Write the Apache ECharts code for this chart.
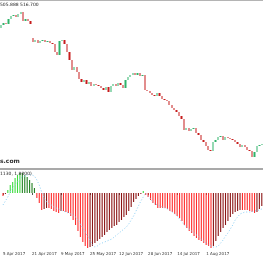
<!DOCTYPE html>
<html><head><meta charset="utf-8">
<script src="https://cdn.jsdelivr.net/npm/echarts@6/dist/echarts.min.js"></script>
<style>html,body{margin:0;padding:0;background:#fff}#c{width:263px;height:260px}</style>
</head><body><div id="c"></div>
<script>
const dates = [
'5 Apr 2017','6 Apr 2017','7 Apr 2017','10 Apr 2017','11 Apr 2017','12 Apr 2017','13 Apr 2017','14 Apr 2017','17 Apr 2017','18 Apr 2017','19 Apr 2017','20 Apr 2017','21 Apr 2017','24 Apr 2017','25 Apr 2017','26 Apr 2017','27 Apr 2017','28 Apr 2017',
'1 May 2017','2 May 2017','3 May 2017','4 May 2017','5 May 2017','8 May 2017','9 May 2017','10 May 2017','11 May 2017','12 May 2017','15 May 2017','16 May 2017','17 May 2017','18 May 2017','19 May 2017','22 May 2017','23 May 2017','24 May 2017','25 May 2017','26 May 2017','29 May 2017','30 May 2017','31 May 2017',
'1 Jun 2017','2 Jun 2017','5 Jun 2017','6 Jun 2017','7 Jun 2017','8 Jun 2017','9 Jun 2017','12 Jun 2017','13 Jun 2017','14 Jun 2017','15 Jun 2017','16 Jun 2017','19 Jun 2017','20 Jun 2017','21 Jun 2017','22 Jun 2017','23 Jun 2017','26 Jun 2017','27 Jun 2017','28 Jun 2017','29 Jun 2017','30 Jun 2017',
'3 Jul 2017','4 Jul 2017','5 Jul 2017','6 Jul 2017','7 Jul 2017','10 Jul 2017','11 Jul 2017','12 Jul 2017','13 Jul 2017','14 Jul 2017','17 Jul 2017','18 Jul 2017','19 Jul 2017','20 Jul 2017','21 Jul 2017','24 Jul 2017','25 Jul 2017','26 Jul 2017','27 Jul 2017','28 Jul 2017','31 Jul 2017',
'1 Aug 2017','2 Aug 2017','3 Aug 2017','4 Aug 2017','7 Aug 2017','8 Aug 2017','9 Aug 2017','10 Aug 2017','11 Aug 2017','14 Aug 2017','15 Aug 2017','16 Aug 2017','17 Aug 2017','18 Aug 2017','21 Aug 2017','22 Aug 2017','23 Aug 2017','24 Aug 2017','25 Aug 2017','28 Aug 2017','29 Aug 2017','30 Aug 2017','31 Aug 2017',
'1 Sep 2017'];

const opens = [506,507.5,508.5,508,510.5,512,512.5,511.5,513,514,509.5,510.5,509.5,501,499,500,498.5,499.5,500,499,499.5,498.5,498,494,492.5,499.5,500,498,494,490,485,486.5,484,480.5,479,480,478,479,477,478,477.5,477,476,475,476.5,474,477,478,477,478.5,477.5,476,480,481.5,482.5,483.5,482.5,483.5,482,482.5,475,474.5,473.5,472.5,472,473.5,472,470.5,470,469.5,467.5,466,465,464,462,460.5,455,456,454.5,455.5,456,453.5,452.5,450,449,447,445,444.5,449,450,451.5,452,450,451.5,451,450.5,450,449,448,446.5,447.5,446.5,445,444.5,441.5,444,447,447.5];
const closes = [507.5,508.5,508,510.5,512,512.5,511.5,513,514,509.5,510.5,509.5,508,499,500,498.5,499.5,500,499,499.5,498.5,498,494,492.5,499.5,500,498,494,490,485,486.5,484,480.5,479,480,478,479,477,478,477.5,477,476,475,476.5,474,477,478,477,478.5,477.5,476,480,481.5,482.5,483.5,482.5,483.5,482,482.5,475,474.5,473.5,472.5,472,473.5,472,470.5,470,469.5,467.5,466,465,464,462,460.5,455,456,454.5,455.5,456,453.5,452.5,450,449,447,445,444.5,449,450,451.5,452,450,451.5,451,450.5,450,449,448,446.5,447.5,446.5,445,444.5,441.5,444,447,447.5,448];
const lows = [505,506.5,507,507.5,509.5,511,510.5,511,512,508.5,508.5,508.5,507,497.5,497,497,497.5,498,497.5,498,497,496.5,493,491,491.5,498.5,497,493,489,484,483.5,483,479.5,478,478,477,477,476,475.5,476,475.5,474.5,474,474,473,473,476,476,476,476.5,471,475,479,480.5,481.5,481.5,481.5,481,480.5,474,473,472.5,471,470.5,471,471,469.5,468.5,468,466.5,465,464,462.5,461,459.5,454,453.5,453.5,453.5,454.5,452.5,451.5,449,448,446,444,443,443.5,448,449,450.5,449,449,450,449.5,449,448,447,445.5,445.5,445.5,444,443.5,438.5,440.5,443,446,446.5];
const highs = [508.5,509.5,510,511.5,513,514,513.5,514,515,515,511.5,511.5,512.5,502.5,502.5,501.5,502,501.5,502.5,501,500.5,500,499,495,500.5,501.5,501,499,495,491,488,487.5,485,481.5,481.5,481,480.5,480,479.5,479.5,479,478,477.5,478,477.5,478,479.5,479,479.5,480,478.5,481.5,483,484,485,485,484.5,485,484,483.5,476.5,476,475,474,475,474.5,473,472,471.5,470.5,468.5,467,466.5,465,463,461,457.5,457,457,457.5,457,454.5,453.5,451,450,448,446,450,452,453,453.5,453,453,452.5,452.5,452,451.5,450,449,449,448.5,447.5,446,445.5,445,450,449,449.5];

const histValues = [-1.5,-0.5,1.5,4,5.5,7.5,9,10,10,9,8,6.5,5,2.5,-2.5,-5,-8.5,-8,-7.5,-7.5,-8,-9,-9.5,-10,-9,-9,-9.5,-10,-11.5,-13.5,-16,-19,-22,-24.5,-26.5,-27.5,-27,-26.5,-25,-24,-23,-22,-21,-19.5,-18.5,-17.5,-16.5,-16,-14.5,-13.5,-12,-11,-9,-7,-4.5,-3,-1.5,-0.5,1,-1,-2,-3.5,-5,-6,-7.5,-7.5,-7.5,-7.5,-8,-9,-9.5,-10.5,-11.5,-12.5,-14,-16,-17.5,-19,-20,-21.5,-22.5,-23.5,-24,-25,-26,-26.5,-27.5,-26.5,-24,-21.5,-19.5,-17.5,-16,-14,-12,-10.5,-9.5,-9,-8.5,-8.5,-8.5,-8.5,-9,-9.5,-10,-9.5,-8,-6.5];
const signalValues = [-6,-4,-2,0.5,2.5,4,5.5,7,8,8.5,9,9.2,9,8.5,6.5,4,0.5,-2.5,-4.5,-5.5,-6,-7,-7.5,-8,-8.5,-9,-9.5,-10,-10.5,-11,-12,-13.5,-15.5,-17.5,-19.5,-21.5,-23.5,-26,-27,-26.5,-25.5,-25,-24.5,-24,-23.5,-23,-22,-21,-20,-19,-18,-17,-15.5,-13.5,-11.5,-9,-6.5,-4,-2,0,-1.5,-3,-4.5,-5.5,-6,-6.5,-7,-7.5,-8,-8.8,-9.5,-10.5,-11.5,-13,-14.5,-16,-17,-18,-19,-20,-21,-22,-23,-24,-25,-26,-26.5,-27,-27,-26.5,-25,-23.5,-21.5,-20,-18,-16,-13.5,-12,-10.5,-10,-9.5,-9.5,-9.5,-9.3,-9,-8.8,-8.5,-8];

const priceLabel = '505.888 516.700';
const indicatorLabel = '1130, 1.8000)';
const siteLabel = 's.com';

const wickData = dates.map((d, i) => [lows[i], highs[i], lows[i], highs[i]]);
const bodyData = dates.map((d, i) => [opens[i], closes[i], Math.min(opens[i], closes[i]), Math.max(opens[i], closes[i])]);
const histData = histValues.map((v, i) => {
  const prev = i > 0 ? histValues[i - 1] : v + 1;
  const rising = v > prev;
  let c;
  if (v >= 0) c = rising ? '#3ddc3d' : '#1f7f1f';
  else c = rising ? '#8b1414' : '#ff2a2a';
  return { value: v, itemStyle: { color: c } };
});

const chart = echarts.init(document.getElementById('c'), null, { renderer: 'canvas' });
chart.setOption({
  animation: false,
  backgroundColor: '#ffffff',
  grid: [
    { left: 0, right: 0, top: 0, height: 167 },
    { left: 0, right: 0, top: 172, height: 77 }
  ],
  xAxis: [
    { type: 'category', gridIndex: 0, data: dates, boundaryGap: true, show: false },
    { type: 'category', gridIndex: 1, data: dates, boundaryGap: true,
      axisLine: { show: false },
      axisTick: { show: true, interval: 11, alignWithLabel: true, length: 2, lineStyle: { color: '#555', width: 1 } },
      axisLabel: { interval: 11, align: 'left', fontSize: 4, color: '#333', margin: 3, fontFamily: 'DejaVu Sans', showMaxLabel: false }
    }
  ],
  yAxis: [
    { type: 'value', gridIndex: 0, min: 436.5, max: 520, show: false, splitLine: { show: false } },
    { type: 'value', gridIndex: 1, min: -28, max: 10.5, show: false, splitLine: { show: false } }
  ],
  series: [
    { type: 'candlestick', xAxisIndex: 0, yAxisIndex: 0, data: wickData, barWidth: 1,
      itemStyle: { color: '#bdbdbd', color0: '#bdbdbd', borderColor: '#bdbdbd', borderColor0: '#bdbdbd', borderWidth: 0 } },
    { type: 'candlestick', xAxisIndex: 0, yAxisIndex: 0, data: bodyData, barWidth: '75%',
      itemStyle: { color: '#2fb36a', color0: '#c61c1c', borderColor: '#2fb36a', borderColor0: '#c61c1c', borderWidth: 0 } },
    { type: 'bar', xAxisIndex: 1, yAxisIndex: 1, data: histData, barWidth: '45%' },
    { type: 'line', xAxisIndex: 1, yAxisIndex: 1, data: signalValues, symbol: 'none', smooth: false,
      lineStyle: { color: '#8ccff5', width: 1, type: [1, 2] }, z: 5 }
  ],
  graphic: [
    { type: 'rect', shape: { x: 0, y: 0, width: 263, height: 1 }, style: { fill: '#b4b4b4' }, z: 100 },
    { type: 'rect', shape: { x: 0, y: 168, width: 263, height: 2 }, style: { fill: '#a9a9a9' }, z: 100 },
    { type: 'text', left: 0, top: 2, style: { text: priceLabel, fontSize: 4.5, fill: '#222', fontFamily: 'DejaVu Sans' }, z: 100 },
    { type: 'text', left: 0, top: 158, style: { text: siteLabel, fontSize: 6, fontWeight: 'bold', fill: '#333', fontFamily: 'DejaVu Sans' }, z: 100 },
    { type: 'text', left: 0, top: 171, style: { text: indicatorLabel, fontSize: 4.5, fill: '#222', fontFamily: 'DejaVu Sans' }, z: 100 }
  ]
});
</script>
</body></html>
